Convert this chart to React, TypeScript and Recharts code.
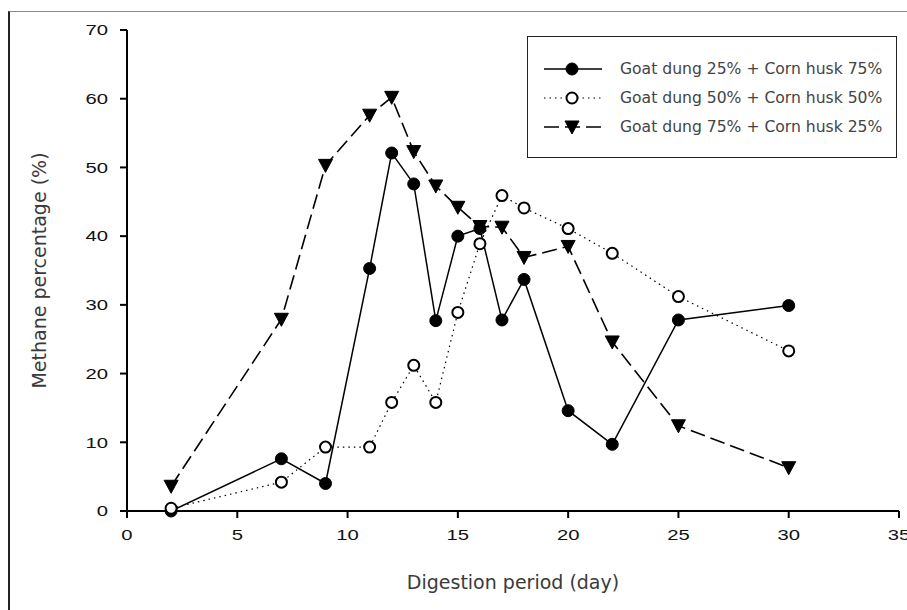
import React from 'react';
import { LineChart, Line, XAxis, YAxis, Legend } from 'recharts';

const days = [2, 7, 9, 11, 12, 13, 14, 15, 16, 17, 18, 20, 22, 25, 30];
const goat25 = [0, 7.6, 4.0, 35.3, 52.1, 47.6, 27.7, 40.0, 41.1, 27.8, 33.7, 14.6, 9.7, 27.8, 29.9];
const goat50 = [0.4, 4.2, 9.3, 9.3, 15.8, 21.2, 15.8, 28.9, 38.9, 45.9, 44.1, 41.1, 37.5, 31.2, 23.3];
const goat75 = [3.6, 27.9, 50.3, 57.6, 60.2, 52.3, 47.3, 44.2, 41.4, 41.3, 36.9, 38.5, 24.6, 12.4, 6.3];

const xTicks = [0, 5, 10, 15, 20, 25, 30, 35];
const yTicks = [0, 10, 20, 30, 40, 50, 60, 70];

const seriesNames = [
  'Goat dung 25% + Corn husk 75%',
  'Goat dung 50% + Corn husk 50%',
  'Goat dung 75% + Corn husk 25%',
];

const data = days.map((d, i) => ({
  day: d,
  g25: goat25[i],
  g50: goat50[i],
  g75: goat75[i],
}));

const tickFont = '"Liberation Sans", Arial, sans-serif';
const labelFont = '"DejaVu Sans", sans-serif';

const XTick = (props: any) => {
  const { x, y, payload } = props;
  return (
    <text
      transform={`translate(${x},${y}) scale(1.35,1)`}
      textAnchor="middle"
      dy="0.71em"
      fontSize={15}
      fontFamily={tickFont}
      fill="#111"
    >
      {payload.value}
    </text>
  );
};

const YTick = (props: any) => {
  const { x, y, payload } = props;
  return (
    <text
      transform={`translate(${x},${y}) scale(1.35,1)`}
      textAnchor="end"
      dy="0.355em"
      fontSize={15}
      fontFamily={tickFont}
      fill="#111"
    >
      {payload.value}
    </text>
  );
};

const FilledDot = (props: any) => {
  const { cx, cy } = props;
  return <circle cx={cx} cy={cy} r={6} fill="#000" stroke="#000" strokeWidth={1} />;
};

const OpenDot = (props: any) => {
  const { cx, cy } = props;
  return <circle cx={cx} cy={cy} r={5.5} fill="#fff" stroke="#000" strokeWidth={2} />;
};

const TriDot = (props: any) => {
  const { cx, cy } = props;
  return (
    <polygon
      points={`${cx - 7},${cy - 6} ${cx + 7},${cy - 6} ${cx},${cy + 7}`}
      fill="#000"
      stroke="#000"
      strokeWidth={1}
    />
  );
};

const lineStyles = [
  { dash: undefined, width: 1.5, Marker: FilledDot },
  { dash: '1.5 4', width: 1.2, Marker: OpenDot },
  { dash: '15 6', width: 1.6, Marker: TriDot },
];

const LegendBox = () => (
  <div
    style={{
      width: 370,
      height: 122,
      border: '1.5px solid #222',
      background: '#fff',
      boxSizing: 'border-box',
      paddingTop: 17,
    }}
  >
    {seriesNames.map((name, i) => {
      const s = lineStyles[i];
      const M = s.Marker;
      return (
        <div key={name} style={{ display: 'flex', alignItems: 'center', height: 29 }}>
          <svg width={80} height={20} style={{ marginLeft: 12 }}>
            <line x1={4} y1={10} x2={62} y2={10} stroke="#000" strokeWidth={s.width} strokeDasharray={s.dash} />
            <M cx={32} cy={10} />
          </svg>
          <span style={{ fontFamily: labelFont, fontSize: 15.6, color: '#444', whiteSpace: 'nowrap' }}>{name}</span>
        </div>
      );
    })}
  </div>
);

export default function App() {
  return (
    <div style={{ position: 'absolute', left: 0, top: 0, width: 907, height: 610, background: '#fff', overflow: 'hidden' }}>
      <div
        style={{
          position: 'absolute',
          left: 8,
          top: 11,
          width: 905,
          height: 605,
          borderTop: '1.5px solid #8a8a8a',
          borderLeft: '2px solid #222',
        }}
      />
      <LineChart
        width={907}
        height={610}
        data={data}
        margin={{ top: 30, right: 8, left: 67, bottom: 69 }}
        style={{ position: 'absolute', left: 0, top: 0 }}
      >
        <XAxis
          dataKey="day"
          type="number"
          domain={[0, 35]}
          ticks={xTicks}
          interval={0}
          height={30}
          tickSize={7}
          tickMargin={11}
          axisLine={{ stroke: '#000', strokeWidth: 2 }}
          tickLine={{ stroke: '#000', strokeWidth: 2 }}
          tick={<XTick />}
          label={{
            value: 'Digestion period (day)',
            position: 'insideBottom',
            offset: -48,
            style: { fontFamily: labelFont, fontSize: 19, fill: '#3a3a3a' },
          }}
        />
        <YAxis
          type="number"
          domain={[0, 70]}
          ticks={yTicks}
          interval={0}
          width={60}
          tickSize={7}
          tickMargin={12}
          axisLine={{ stroke: '#000', strokeWidth: 2 }}
          tickLine={{ stroke: '#000', strokeWidth: 2 }}
          tick={<YTick />}
          label={{
            value: 'Methane percentage (%)',
            angle: -90,
            position: 'insideLeft',
            offset: -28,
            style: { textAnchor: 'middle', fontFamily: labelFont, fontSize: 19, fill: '#3a3a3a' },
          }}
        />
        <Legend
          verticalAlign="middle"
          align="center"
          layout="vertical"
          wrapperStyle={{ position: 'absolute', left: 527, top: 36, width: 370, height: 122 }}
          content={() => <LegendBox />}
        />
        <Line
          dataKey="g25"
          name={seriesNames[0]}
          stroke="#000"
          strokeWidth={1.5}
          dot={<FilledDot />}
          activeDot={false}
          isAnimationActive={false}
        />
        <Line
          dataKey="g75"
          name={seriesNames[2]}
          stroke="#000"
          strokeWidth={1.6}
          strokeDasharray="15 6"
          dot={<TriDot />}
          activeDot={false}
          isAnimationActive={false}
        />
        <Line
          dataKey="g50"
          name={seriesNames[1]}
          stroke="#000"
          strokeWidth={1.2}
          strokeDasharray="1.5 4"
          dot={<OpenDot />}
          activeDot={false}
          isAnimationActive={false}
        />
      </LineChart>
    </div>
  );
}
